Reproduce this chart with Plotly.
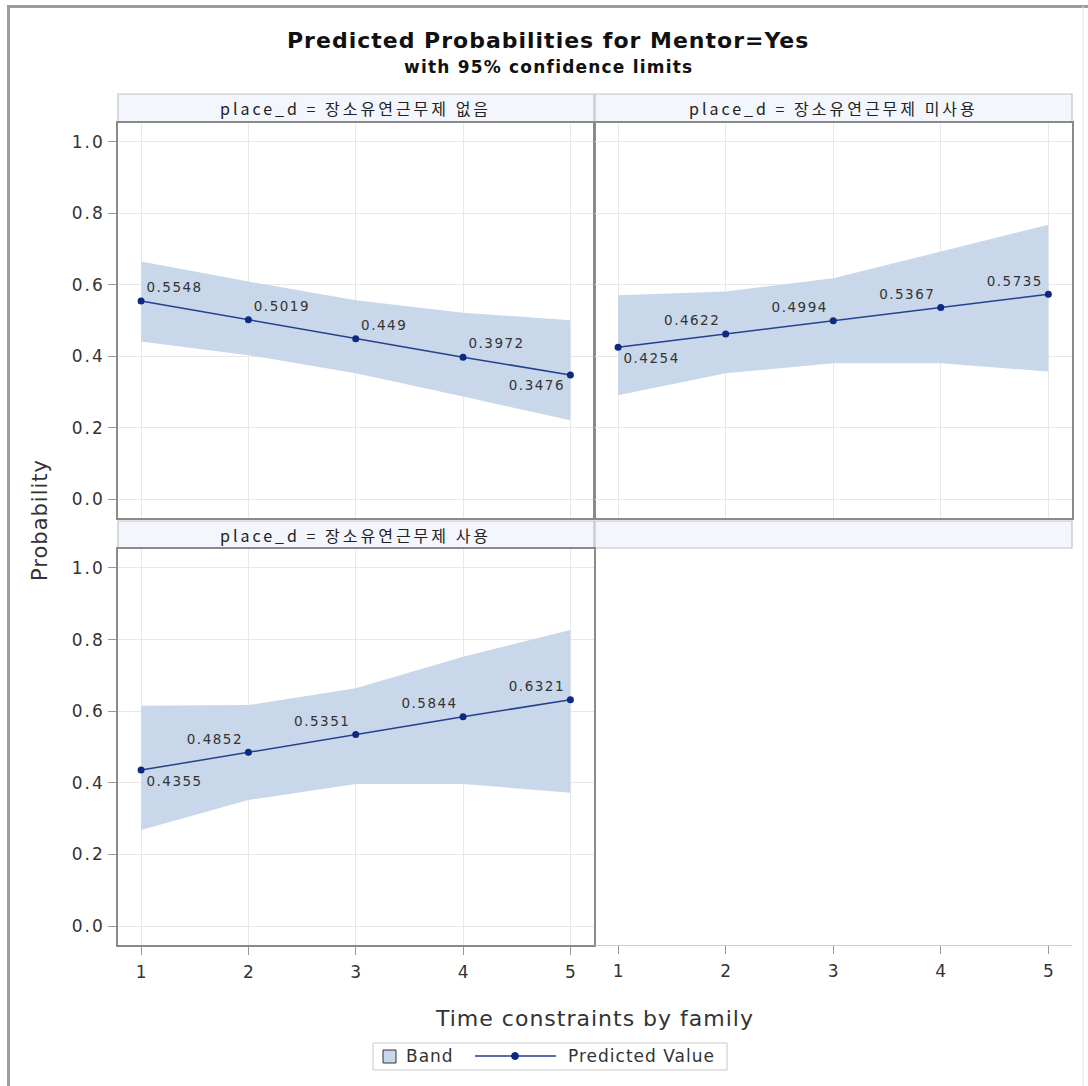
import plotly.graph_objects as go

W, H = 1088, 1086

x_vals = [1, 2, 3, 4, 5]
x_tick_text = ["1", "2", "3", "4", "5"]
panel_titles = ["place_d = 장소유연근무제 없음", "place_d = 장소유연근무제 미사용", "place_d = 장소유연근무제 사용"]
pred = [
    [0.5548, 0.5019, 0.449, 0.3972, 0.3476],
    [0.4254, 0.4622, 0.4994, 0.5367, 0.5735],
    [0.4355, 0.4852, 0.5351, 0.5844, 0.6321],
]
upper = [
    [0.665, 0.609, 0.557, 0.522, 0.501],
    [0.571, 0.581, 0.618, 0.693, 0.768],
    [0.615, 0.617, 0.664, 0.752, 0.827],
]
lower = [
    [0.441, 0.403, 0.352, 0.287, 0.221],
    [0.291, 0.352, 0.380, 0.380, 0.357],
    [0.268, 0.352, 0.397, 0.397, 0.372],
]
label_pos = [
    ["top right", "top right", "top right", "top right", "bottom left"],
    ["bottom right", "top left", "top left", "top left", "top left"],
    ["bottom right", "top left", "top left", "top left", "top left"],
]
y_ticks = [0.0, 0.2, 0.4, 0.6, 0.8, 1.0]
y_tick_text = ["0.0", "0.2", "0.4", "0.6", "0.8", "1.0"]

def px_x(p):
    return p / W

def px_y(p):
    return 1 - p / H

def sp(t, ls):
    return '<span style="letter-spacing:%spx">%s</span>' % (ls, t)

col_dom = [[px_x(118), px_x(594)], [px_x(595), px_x(1072)]]
row_dom = [[px_y(518), px_y(123)], [px_y(945), px_y(549)]]
hdr_px = [(94, 122), (521, 548)]

XR = [0.785, 5.22]
YR = [-0.053, 1.053]
FONT = "DejaVu Sans, sans-serif"
KFONT = "Noto Sans CJK KR, sans-serif"
BAND = "#c9d7ea"
LINE = "#23418f"
MARK = "#0c2a80"
GRID = "#e8e8e8"
BORDER = "#8a8a8a"
TXT = "#333333"

fig = go.Figure()

cells = [(0, 0), (0, 1), (1, 0)]
axis_ids = ["", "2", "3"]

for i, (r, c) in enumerate(cells):
    aid = axis_ids[i]
    xa = "x" + aid
    ya = "y" + aid
    fig.add_trace(go.Scatter(
        x=x_vals + x_vals[::-1], y=upper[i] + lower[i][::-1],
        fill="toself", fillcolor=BAND, line=dict(width=0, color=BAND),
        mode="lines", showlegend=False, hoverinfo="skip", xaxis=xa, yaxis=ya))
    fig.add_trace(go.Scatter(
        x=x_vals, y=pred[i], mode="lines+markers+text",
        text=[sp(str(v), 1.5) for v in pred[i]], textposition=label_pos[i],
        textfont=dict(family=FONT, size=13.5, color=TXT),
        line=dict(color=LINE, width=1.5), marker=dict(color=MARK, size=7),
        showlegend=False, xaxis=xa, yaxis=ya))

common_x = dict(range=XR, tickvals=x_vals, ticktext=x_tick_text, showgrid=True, gridcolor=GRID,
                zeroline=False, tickfont=dict(family=FONT, size=17, color=TXT), ticklabelstandoff=3)
common_y = dict(range=YR, tickvals=y_ticks, ticktext=[sp(t, 2) for t in y_tick_text], showgrid=True,
                gridcolor=GRID, zeroline=False, tickfont=dict(family=FONT, size=17, color=TXT))

layout = {}
layout["xaxis"] = dict(common_x, domain=col_dom[0], anchor="y", showticklabels=False,
                       showline=True, linecolor=BORDER, mirror=True, linewidth=1.5)
layout["yaxis"] = dict(common_y, domain=row_dom[0], anchor="x", showline=True, linecolor=BORDER,
                       mirror=True, linewidth=1.5, ticks="outside", ticklen=8, tickcolor="#999999")
layout["xaxis2"] = dict(common_x, domain=col_dom[1], anchor="y2", showticklabels=False,
                        showline=True, linecolor=BORDER, mirror=True, linewidth=1.5)
layout["yaxis2"] = dict(common_y, domain=row_dom[0], anchor="x2", showticklabels=False,
                        showline=True, linecolor=BORDER, mirror=True, linewidth=1.5)
layout["xaxis3"] = dict(common_x, domain=col_dom[0], anchor="y3", showline=True, linecolor=BORDER,
                        mirror=True, linewidth=1.5, ticks="outside", ticklen=8, tickcolor="#999999")
layout["yaxis3"] = dict(common_y, domain=row_dom[1], anchor="x3", showline=True, linecolor=BORDER,
                        mirror=True, linewidth=1.5, ticks="outside", ticklen=8, tickcolor="#999999")
layout["xaxis4"] = dict(common_x, domain=col_dom[1], anchor="y4", showgrid=False, showline=True,
                        linecolor="#cccccc", linewidth=1, ticks="outside", ticklen=8, tickcolor="#999999")
layout["yaxis4"] = dict(range=YR, domain=row_dom[1], anchor="x4", visible=False)

fig.add_trace(go.Scatter(x=[None], y=[None], xaxis="x4", yaxis="y4", showlegend=False))

shapes = []
annotations = []

def ann(text, x, y, size, family=FONT, color=TXT, xanchor="center", angle=0):
    annotations.append(dict(text=text, xref="paper", yref="paper", x=px_x(x), y=px_y(y),
                            xanchor=xanchor, yanchor="middle", showarrow=False, textangle=angle,
                            font=dict(family=family, size=size, color=color)))

# outer frame
shapes.append(dict(type="line", xref="paper", yref="paper", x0=px_x(8.5), x1=px_x(8.5),
                   y0=px_y(5), y1=px_y(1090), line=dict(color="#9c9c9c", width=3)))
shapes.append(dict(type="line", xref="paper", yref="paper", x0=px_x(7), x1=px_x(1090),
                   y0=px_y(6.5), y1=px_y(6.5), line=dict(color="#9c9c9c", width=3)))
shapes.append(dict(type="line", xref="paper", yref="paper", x0=px_x(1083), x1=px_x(1083),
                   y0=px_y(6), y1=px_y(1086), line=dict(color="#e4e4e4", width=1)))

# headers
hdr_cells = [(0, 0, panel_titles[0]), (0, 1, panel_titles[1]), (1, 0, panel_titles[2]), (1, 1, "")]
for r, c, t in hdr_cells:
    y0p, y1p = hdr_px[r]
    shapes.append(dict(type="rect", xref="paper", yref="paper",
                       x0=col_dom[c][0], x1=col_dom[c][1], y0=px_y(y1p), y1=px_y(y0p),
                       fillcolor="#f3f6fc", line=dict(color="#c4c4c4", width=1.2), layer="below"))
    if t:
        cx = (col_dom[c][0] + col_dom[c][1]) / 2 * W
        ann(sp(t, 3), cx, (y0p + y1p) / 2, 16, family=KFONT, color="#222222")

# titles
ann(sp("<b>Predicted Probabilities for Mentor=Yes</b>", 1), 548, 40, 22, color="#111111")
ann(sp("<b>with 95% confidence limits</b>", 1.2), 548, 67, 17, color="#111111")
ann(sp("Probability", 1), 40, 520, 21, angle=-90)
ann(sp("Time constraints by family", 1), 594, 1018, 22)

# legend (manual)
shapes.append(dict(type="rect", xref="paper", yref="paper", x0=px_x(373), x1=px_x(727),
                   y0=px_y(1070), y1=px_y(1043), line=dict(color="#c8c8c8", width=1),
                   fillcolor="white"))
shapes.append(dict(type="rect", xref="paper", yref="paper", x0=px_x(383), x1=px_x(396),
                   y0=px_y(1063), y1=px_y(1050), line=dict(color="#333333", width=1),
                   fillcolor=BAND))
shapes.append(dict(type="line", xref="paper", yref="paper", x0=px_x(475), x1=px_x(556),
                   y0=px_y(1056), y1=px_y(1056), line=dict(color=LINE, width=1.5)))
shapes.append(dict(type="circle", xref="paper", yref="paper", x0=px_x(511.5), x1=px_x(518.5),
                   y0=px_y(1059.5), y1=px_y(1052.5), line=dict(color=MARK, width=1),
                   fillcolor=MARK))
ann(sp("Band", 1), 404, 1056, 17, xanchor="left")
ann(sp("Predicted Value", 1), 566, 1056, 17, xanchor="left")

fig.update_layout(
    width=W, height=H, margin=dict(l=0, r=0, t=0, b=0),
    paper_bgcolor="white", plot_bgcolor="white",
    shapes=shapes, annotations=annotations, showlegend=False,
    **layout,
)

fig.write_html("out.html")
